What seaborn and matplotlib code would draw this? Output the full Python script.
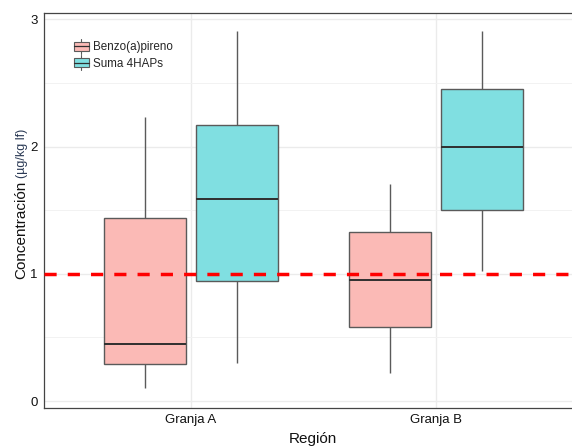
import numpy as np
import pandas as pd
import matplotlib
matplotlib.use("Agg")
import matplotlib.pyplot as plt
import seaborn as sns
from matplotlib.legend_handler import HandlerBase
from matplotlib.patches import Rectangle, Patch
from matplotlib.lines import Line2D

# Five-number summaries per farm and compound: min, Q1, median, Q3, max (µg/kg lf)
regiones = ["Granja A", "Granja B"]
compuestos = ["Benzo(a)pireno", "Suma 4HAPs"]
benzo_granja_a = [0.10, 0.29, 0.45, 1.44, 2.23]
suma_granja_a = [0.30, 0.94, 1.59, 2.17, 2.91]
benzo_granja_b = [0.22, 0.58, 0.95, 1.33, 1.71]
suma_granja_b = [1.02, 1.50, 2.00, 2.45, 2.91]
limite = 1.0
y_ticks = [0, 1, 2, 3]

# Fill colours: ggplot hues at 50 % opacity on white
colores = {"Benzo(a)pireno": "#FBBAB6", "Suma 4HAPs": "#80DFE1"}

series = {
    ("Granja A", "Benzo(a)pireno"): benzo_granja_a,
    ("Granja A", "Suma 4HAPs"): suma_granja_a,
    ("Granja B", "Benzo(a)pireno"): benzo_granja_b,
    ("Granja B", "Suma 4HAPs"): suma_granja_b,
}
rows = []
for (reg, comp), vals in series.items():
    for v in vals:
        rows.append({"Región": reg, "Compuesto": comp, "Concentración": v})
df = pd.DataFrame(rows)

sns.set_style("white")
plt.rcParams["font.family"] = ["Liberation Sans", "DejaVu Sans"]

W, H = 572, 446
fig = plt.figure(figsize=(W / 100, H / 100), dpi=100)


def px(x, y):
    return x / W, 1 - y / H


ax = fig.add_axes([44 / W, 1 - 408 / H, 539 / W, 395 / H])

line_col = "#5a5a5a"
sns.boxplot(
    data=df, x="Región", y="Concentración", hue="Compuesto",
    order=regiones, hue_order=compuestos, palette=colores,
    saturation=1, width=0.75, gap=0.1, whis=(0, 100),
    linecolor=line_col, linewidth=1.0, showcaps=False, showfliers=False,
    medianprops=dict(color="#2f2f2f", linewidth=1.4),
    legend=False, ax=ax,
)

# Reference limit
ax.axhline(limite, color="red", lw=2.5, ls=(0, (3.5, 3.2)), zorder=6)

ax.set_xlim(-0.6, 1.6)
ax.set_ylim(-0.055, 3.051)
ax.set_yticks(y_ticks)
ax.set_yticks([0.5, 1.5, 2.5], minor=True)
ax.set_axisbelow(True)
ax.grid(True, which="major", color="#EBEBEB", lw=1.0)
ax.grid(True, which="minor", axis="y", color="#F2F2F2", lw=0.7)
for s in ax.spines.values():
    s.set_color("#444444")
    s.set_linewidth(0.9)
ax.tick_params(axis="both", which="major", length=3, width=0.8, color="#444444",
               labelsize=9.5, labelcolor="#111111", pad=1.5)
ax.tick_params(axis="both", which="minor", length=0)
ax.set_xlabel("")
ax.set_ylabel("")

# Axis titles
fig.text(*px(313, 439), "Región", ha="center", va="center", fontsize=11, color="#111111")
fig.text(*px(25, 279), "Concentración", rotation=90, rotation_mode="anchor",
         ha="left", va="baseline", fontsize=11, color="#111111")
fig.text(*px(25, 178), "(µg/kg lf)", rotation=90, rotation_mode="anchor",
         ha="left", va="baseline", fontsize=9, color="#2B3A55")


class BoxKey(HandlerBase):
    def create_artists(self, legend, orig_handle, xdescent, ydescent, width, height,
                       fontsize, trans):
        x0, y0 = -xdescent, -ydescent
        cx = x0 + width / 2
        vline = Line2D([cx, cx], [y0 - 0.2 * height, y0 + 1.2 * height],
                       color=line_col, lw=0.8, transform=trans)
        box = Rectangle((x0, y0 + 0.1 * height), width, 0.8 * height,
                        facecolor=orig_handle.get_facecolor(), edgecolor=line_col,
                        lw=0.8, transform=trans)
        med = Line2D([x0, x0 + width], [y0 + 0.5 * height] * 2, color="#2f2f2f",
                     lw=0.9, transform=trans)
        return [vline, box, med]


handles = [Patch(facecolor=colores[c], label=c) for c in compuestos]
ax.legend(handles=handles, labels=compuestos, handler_map={Patch: BoxKey()},
          loc="upper left", bbox_to_anchor=px(74, 41), bbox_transform=fig.transFigure,
          frameon=False, fontsize=8.4, handlelength=1.25, handleheight=1.05,
          handletextpad=0.4, labelspacing=0.32, borderpad=0, borderaxespad=0)

fig.savefig("out.png", dpi=100)
